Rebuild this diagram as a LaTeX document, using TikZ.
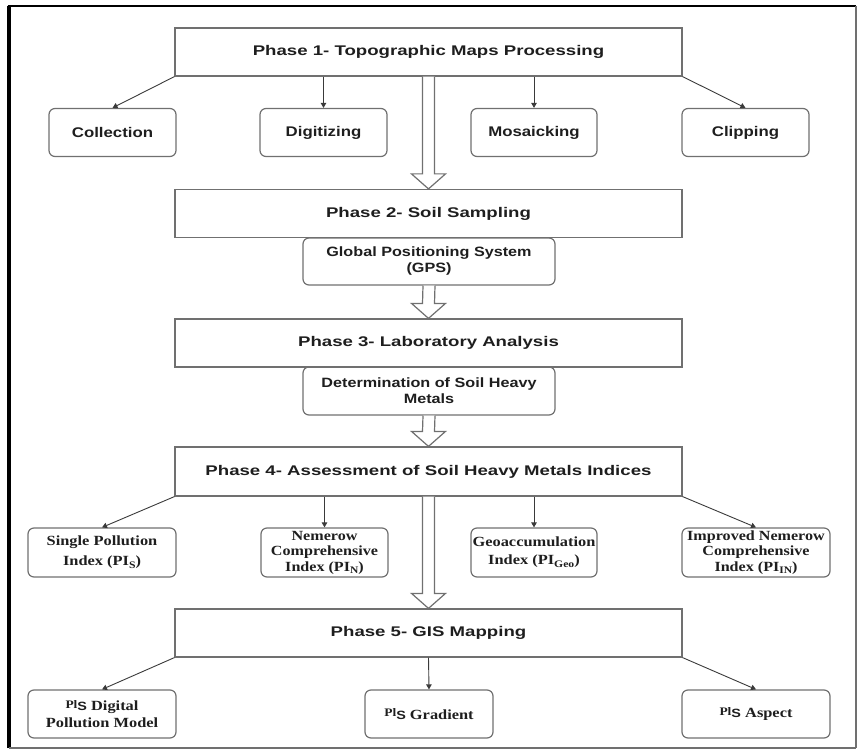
\documentclass[tikz,border=0pt]{standalone}
\usepackage{fontspec}
\usetikzlibrary{arrows.meta,calc}
\newfontfamily\phasefam[FakeStretch=1.33]{Liberation Sans}
\newfontfamily\subfam[FakeStretch=1.2]{Liberation Sans}
\newfontfamily\serfam[FakeStretch=1.17]{Liberation Serif}
\newfontfamily\sersmall[FakeStretch=1.15]{Liberation Serif}
\definecolor{boxgray}{HTML}{707070}
\definecolor{linegray}{HTML}{3A3A3A}
\definecolor{txt}{HTML}{1E1E1E}
\newcommand\subs[1]{\raisebox{-0.35ex}{\fontsize{10}{10}\selectfont #1}}
\newcommand\pis{{\fontsize{11.5}{11.5}\selectfont\raisebox{0.5ex}{Pl}}{\subfam\bfseries\fontsize{12}{12}\selectfont S}}
\tikzset{
  phase/.style={draw=boxgray, line width=1.2pt, rectangle, minimum width=507pt, minimum height=48pt, inner sep=0pt, text=txt, font=\phasefam\bfseries\fontsize{14}{16}\selectfont},
  rbox/.style={draw=boxgray, line width=1.2pt, rectangle, rounded corners=6pt, inner sep=0pt, minimum height=48pt, text=txt, align=center},
  small/.style={rbox, font=\subfam\bfseries\fontsize{14}{16}\selectfont},
  mid/.style={rbox, font=\subfam\bfseries\fontsize{13.5}{16}\selectfont},
  idx/.style={rbox, font=\serfam\bfseries\fontsize{14}{20}\selectfont},
  idxg/.style={rbox, font=\serfam\bfseries\fontsize{14}{18}\selectfont},
  idxs/.style={rbox, font=\sersmall\bfseries\fontsize{14}{15.5}\selectfont},
  bot/.style={rbox, font=\serfam\bfseries\fontsize{14}{17}\selectfont},
  link/.style={draw=linegray, line width=0.9pt, -{Triangle[length=5pt,width=5.5pt]}},
  hollow/.style={draw=boxgray, line width=1.2pt, fill=white, line join=miter},
}
\newcommand\hollowarrow[2]{%
  \draw[hollow] ($(#1)+(-6,0)$) -- ($(#2)+(-6,15)$) -- ($(#2)+(-17,15)$) -- (#2)
    -- ($(#2)+(17,15)$) -- ($(#2)+(6,15)$) -- ($(#1)+(6,0)$);}
\begin{document}
\begin{tikzpicture}[x=1pt,y=1pt]
\useasboundingbox (0,0) rectangle (859,-754);
% outer frame
\draw[black, line width=3.5pt] (9,-748) -- (9,-6);
\draw[black, line width=2.5pt] (7.5,-6) -- (856,-6);
\draw[boxgray, line width=1.5pt] (856,-6) -- (856,-748);
\draw[boxgray, line width=2pt] (9,-748) -- (856,-748);

% phase 1
\node[phase] (p1) at (428.5,-52) {Phase 1- Topographic Maps Processing};
\node[small, minimum width=127pt] (c1) at (112.5,-132.5) {Collection};
\node[small, minimum width=127pt] (c2) at (323.5,-132.5) {Digitizing};
\node[small, minimum width=126pt] (c3) at (534,-132.5) {Mosaicking};
\node[small, minimum width=127pt] (c4) at (745.5,-132.5) {Clipping};
\draw[link] (p1.south west) -- (c1.north);
\draw[link] (c2.north |- p1.south) -- (c2.north);
\draw[link] (c3.north |- p1.south) -- (c3.north);
\draw[link] (p1.south east) -- (c4.north);

% phase 2
\node[phase] (p2) at (428.5,-213.5) {Phase 2- Soil Sampling};
\node[mid, minimum width=252pt, minimum height=47pt] (gps) at (429,-261.5) {Global Positioning System\\(GPS)};
\hollowarrow{p1.south}{p2.north}

% phase 3
\node[phase] (p3) at (428.5,-343) {Phase 3- Laboratory Analysis};
\hollowarrow{gps.south}{p3.north}
\node[mid, minimum width=252pt] (det) at (429,-391) {Determination of Soil Heavy\\Metals};

% phase 4
\node[phase, minimum height=49pt] (p4) at (428.5,-471.5) {Phase 4- Assessment of Soil Heavy Metals Indices};
\hollowarrow{det.south}{p4.north}
\node[idx, minimum width=148pt, minimum height=49pt] (i1) at (102,-552.5) {Single Pollution\\Index (PI\subs{S})};
\node[idxs, minimum width=127pt, minimum height=49pt] (i2) at (324.5,-552.5) {Nemerow\\Comprehensive\\Index (PI\subs{N})};
\node[idxg, minimum width=126pt, minimum height=49pt] (i3) at (534,-552.5) {Geoaccumulation\\Index (PI\subs{Geo})};
\node[idxs, minimum width=148pt, minimum height=49pt] (i4) at (756,-552.5) {Improved Nemerow\\Comprehensive\\Index (PI\subs{IN})};
\draw[link] (p4.south west) -- (i1.north);
\draw[link] (i2.north |- p4.south) -- (i2.north);
\draw[link] (i3.north |- p4.south) -- (i3.north);
\draw[link] (p4.south east) -- (i4.north);

% phase 5
\node[phase] (p5) at (428.5,-633) {Phase 5- GIS Mapping};
\hollowarrow{p4.south}{p5.north}
\node[bot, minimum width=148pt] (b1) at (102,-714) {\pis{} Digital\\Pollution Model};
\node[bot, minimum width=128pt] (b2) at (429,-714) {\pis{} Gradient};
\node[bot, minimum width=148pt] (b3) at (756,-714) {\pis{} Aspect};
\draw[link] (p5.south west) -- (b1.north);
\draw[link] (p5.south) -- (b2.north);
\draw[link] (p5.south east) -- (b3.north);
\end{tikzpicture}
\end{document}
